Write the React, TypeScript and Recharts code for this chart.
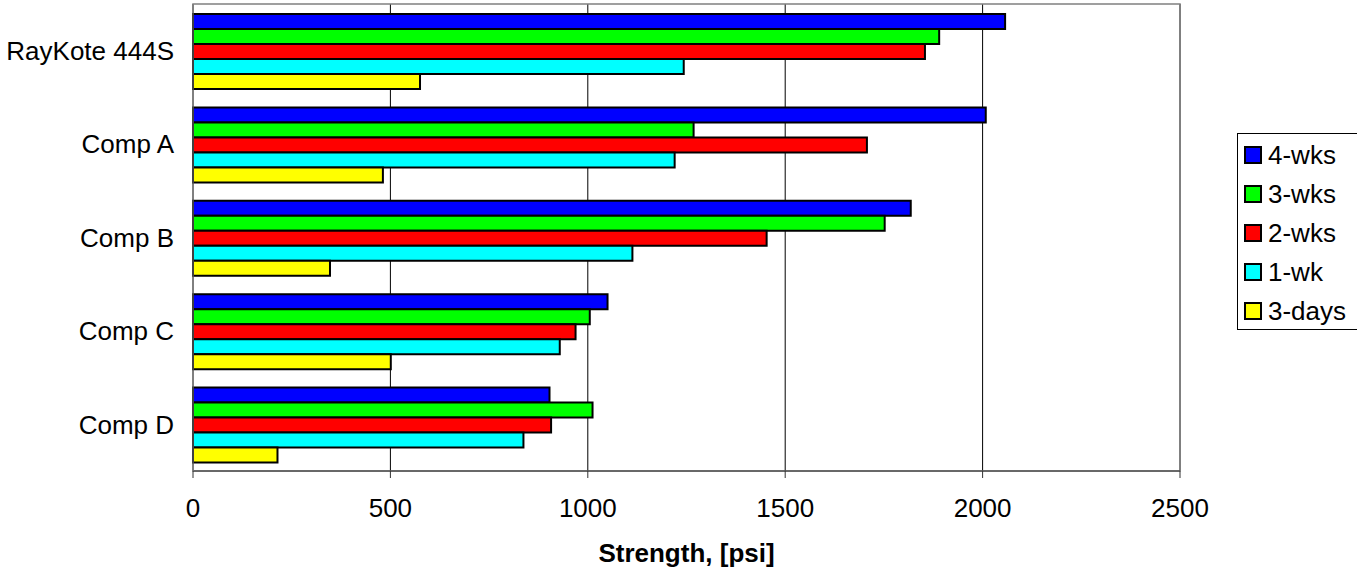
import React from "react";
import {
  BarChart,
  Bar,
  XAxis,
  YAxis,
  CartesianGrid,
  Legend,
  ReferenceArea,
} from "recharts";

const CATEGORIES = ["RayKote 444S", "Comp A", "Comp B", "Comp C", "Comp D"];
const WKS4 = [2057, 2008, 1818, 1050, 903];
const WKS3 = [1890, 1268, 1752, 1005, 1012];
const WKS2 = [1854, 1707, 1453, 969, 907];
const WK1 = [1243, 1220, 1113, 929, 837];
const DAYS3 = [575, 481, 347, 501, 214];
const X_TICKS = [0, 500, 1000, 1500, 2000, 2500];

const SERIES = [
  { key: "4-wks", values: WKS4, color: "#0000FF" },
  { key: "3-wks", values: WKS3, color: "#00FF00" },
  { key: "2-wks", values: WKS2, color: "#FF0000" },
  { key: "1-wk", values: WK1, color: "#00FFFF" },
  { key: "3-days", values: DAYS3, color: "#FFFF00" },
];

const FONT = "Arial, 'Liberation Sans', sans-serif";

const data = CATEGORIES.map((name, i) => {
  const row: Record<string, string | number> = { name };
  SERIES.forEach((s) => {
    row[s.key] = s.values[i];
  });
  return row;
});

function LegendBox() {
  return (
    <div
      style={{
        boxSizing: "border-box",
        width: 130,
        height: 197,
        border: "1px solid #000",
        background: "#fff",
        paddingTop: 1,
        fontFamily: FONT,
        fontSize: 26,
        color: "#000",
      }}
    >
      {SERIES.map((s) => (
        <div
          key={s.key}
          style={{ height: 39.2, display: "flex", alignItems: "center", paddingLeft: 6 }}
        >
          <span
            style={{
              display: "inline-block",
              boxSizing: "border-box",
              width: 18,
              height: 18,
              background: s.color,
              border: "2px solid #000",
              marginRight: 6,
            }}
          />
          <span style={{ lineHeight: 1 }}>{s.key}</span>
        </div>
      ))}
    </div>
  );
}

export default function App() {
  return (
    <div
      style={{
        position: "absolute",
        left: 0,
        top: 0,
        width: 1357,
        height: 571,
        overflow: "hidden",
        background: "#fff",
      }}
    >
      <BarChart
        width={1357}
        height={571}
        data={data}
        layout="vertical"
        margin={{ top: 4, right: 177, bottom: 0, left: 0 }}
        barCategoryGap={10}
        barGap={0}
      >
        <CartesianGrid horizontal={false} vertical stroke="#000" strokeWidth={1} />
        <XAxis
          type="number"
          domain={[0, 2500]}
          ticks={X_TICKS}
          interval={0}
          height={100}
          tickSize={7}
          tickMargin={21}
          axisLine={{ stroke: "#333" }}
          tickLine={{ stroke: "#333" }}
          tick={{ fill: "#000", fontSize: 26, fontFamily: FONT }}
          label={{
            value: "Strength, [psi]",
            position: "insideBottom",
            offset: 9,
            style: { fill: "#000", fontSize: 26, fontWeight: "bold", fontFamily: FONT },
          }}
        />
        <YAxis
          type="category"
          dataKey="name"
          width={193}
          tickSize={0}
          tickMargin={19}
          tickLine={false}
          axisLine={{ stroke: "#808080" }}
          tick={{ fill: "#000", fontSize: 26, fontFamily: FONT }}
        />
        <ReferenceArea
          x1={0}
          x2={2500}
          fill="none"
          fillOpacity={0}
          stroke="#808080"
          strokeWidth={1.5}
          ifOverflow="visible"
        />
        <Legend
          layout="vertical"
          align="center"
          verticalAlign="middle"
          content={() => <LegendBox />}
          wrapperStyle={{ left: 1237, top: 133, width: 130, height: 197 }}
        />
        {SERIES.map((s) => (
          <Bar
            key={s.key}
            dataKey={s.key}
            fill={s.color}
            stroke="#000"
            strokeWidth={2}
            isAnimationActive={false}
          />
        ))}
      </BarChart>
    </div>
  );
}
